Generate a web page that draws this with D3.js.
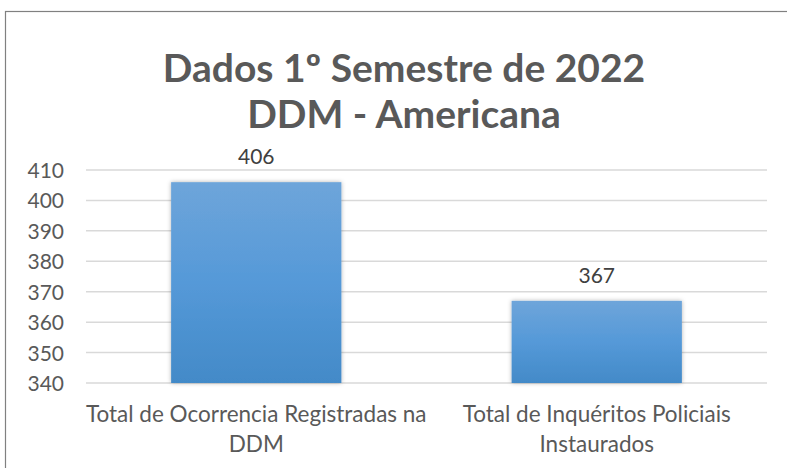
<!DOCTYPE html>
<html><head><meta charset="utf-8">
<script src="https://cdn.jsdelivr.net/npm/d3@7"></script>
<style>body{margin:0;background:#fff}svg{display:block}</style>
</head><body>
<svg id="c" width="787" height="468"></svg>
<script>
const categories = [["Total de Ocorrencia Registradas na","DDM"],["Total de Inquéritos Policiais","Instaurados"]];
const values = [406, 367];
const yTicks = [340,350,360,370,380,390,400,410];
const titleLines = ["Dados 1º Semestre de 2022","DDM - Americana"];

const svg = d3.select("#c");
const font = "Lato, 'Open Sans', 'Liberation Sans', sans-serif";
svg.append("rect").attr("x",5.5).attr("y",11.5).attr("width",790).attr("height",470)
  .attr("fill","#fff").attr("stroke","#808080").attr("stroke-width",1.2);

const defs = svg.append("defs");
const g = defs.append("linearGradient").attr("id","bg").attr("x1",0).attr("y1",0).attr("x2",0).attr("y2",1);
g.append("stop").attr("offset","0%").attr("stop-color","#6ea5da");
g.append("stop").attr("offset","50%").attr("stop-color","#5599d8");
g.append("stop").attr("offset","100%").attr("stop-color","#438ac8");
const f = defs.append("filter").attr("id","sh").attr("x","-10%").attr("y","-10%").attr("width","120%").attr("height","120%");
f.append("feDropShadow").attr("dx",0).attr("dy",0).attr("stdDeviation",2).attr("flood-color","#000").attr("flood-opacity",0.3);

const x = d3.scaleBand().domain(d3.range(values.length)).range([86,767]).paddingInner(0.5).paddingOuter(0.25);
const y = d3.scaleLinear().domain([340,410]).range([383,170]);

const tl = svg.append("g").attr("fill","#595959").attr("font-family",font).attr("font-weight","bold").attr("font-size",39).attr("text-anchor","middle");
titleLines.forEach((t,i)=>tl.append("text").attr("x",404).attr("y",82+i*46).text(t));

svg.append("g").selectAll("line").data(yTicks).join("line")
  .attr("x1",86).attr("x2",767).attr("y1",d=>y(d)).attr("y2",d=>y(d))
  .attr("stroke","#d9d9d9").attr("stroke-width",1.5);

const ax = svg.append("g").attr("transform","translate(64,0)").call(d3.axisLeft(y).tickValues(yTicks).tickSize(0).tickPadding(0));
ax.select(".domain").remove();
ax.selectAll("text").attr("fill","#595959").attr("font-family",font).attr("font-size",21).attr("x",0).attr("dy","0.36em");

svg.append("g").selectAll("rect").data(values).join("rect")
  .attr("x",(d,i)=>x(i)).attr("width",x.bandwidth())
  .attr("y",d=>y(d)).attr("height",d=>y(340)-y(d))
  .attr("fill","url(#bg)").attr("filter","url(#sh)");

svg.append("g").selectAll("text").data(values).join("text")
  .attr("x",(d,i)=>x(i)+x.bandwidth()/2).attr("y",d=>y(d)-18)
  .attr("text-anchor","middle").attr("fill","#404040").attr("font-family",font).attr("font-size",21)
  .text(d=>d);

const cl = svg.append("g").attr("fill","#595959").attr("font-family",font).attr("font-size",22.5).attr("text-anchor","middle");
categories.forEach((lines,i)=>{
  lines.forEach((t,j)=>cl.append("text").attr("x",x(i)+x.bandwidth()/2).attr("y",422+j*30).text(t));
});
</script>
</body></html>
